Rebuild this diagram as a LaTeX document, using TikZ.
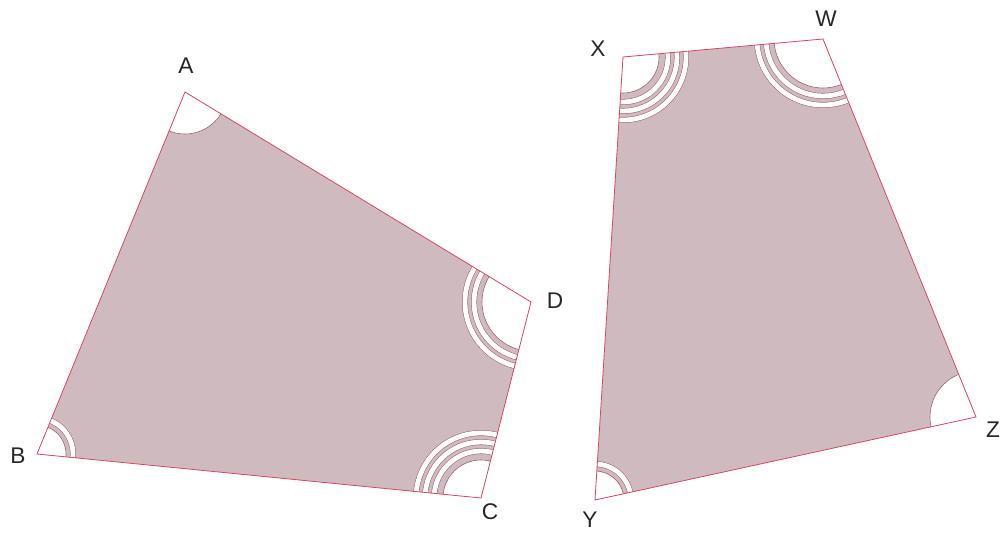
\documentclass[tikz,border=0pt]{standalone}
\usepackage{fontspec}
\setmainfont{Liberation Sans}
\usepackage{tikz}
\usetikzlibrary{calc}
\usepackage{xcolor}

\definecolor{quadfill}{RGB}{207,187,191}
\definecolor{edgered}{RGB}{214,72,98}
\definecolor{markred}{RGB}{160,95,108}

\begin{document}
\begin{tikzpicture}[x=0.75pt, y=-0.75pt,
    edge/.style={draw=edgered, line width=0.6pt, line join=miter},
    sector/.style={fill=white, draw=markred, line width=0.45pt},
    markarc/.style={draw=markred, line width=0.4pt, double=white, double distance=3.6pt},
    lbl/.style={font=\fontsize{17}{20}\selectfont, text=black!85, inner sep=0pt}]
    \useasboundingbox (0,0) rectangle (1003,540);

    % left quadrilateral
    \coordinate (A) at (185,92);
    \coordinate (B) at (37,454);
    \coordinate (C) at (481,498);
    \coordinate (D) at (531,302);

    % right quadrilateral
    \coordinate (X) at (623,57);
    \coordinate (W) at (823,39);
    \coordinate (Z) at (976,417);
    \coordinate (Y) at (595,500);

    \begin{scope}
        \clip (A) -- (B) -- (C) -- (D) -- cycle;
        \fill[quadfill] (A) -- (B) -- (C) -- (D) -- cycle;
        \path[sector] (A) circle (42);
        \path[sector] (B) circle (29);
        \draw[markarc] (B) circle (36);
        \path[sector] (D) circle (49);
        \foreach \r in {57,66} \draw[markarc] (D) circle (\r);
        \path[sector] (C) circle (38);
        \foreach \r in {47,56,65} \draw[markarc] (C) circle (\r);
    \end{scope}
    \draw[edge] (A) -- (B) -- (C) -- (D) -- cycle;

    \begin{scope}
        \clip (X) -- (W) -- (Z) -- (Y) -- cycle;
        \fill[quadfill] (X) -- (W) -- (Z) -- (Y) -- cycle;
        \path[sector] (Z) circle (46);
        \path[sector] (Y) circle (29);
        \draw[markarc] (Y) circle (36);
        \path[sector] (W) circle (49);
        \foreach \r in {57,66} \draw[markarc] (W) circle (\r);
        \path[sector] (X) circle (36);
        \foreach \r in {45,54,63} \draw[markarc] (X) circle (\r);
    \end{scope}
    \draw[edge] (X) -- (W) -- (Z) -- (Y) -- cycle;

    % labels
    \node[lbl] (labA) at (186,66) {A};
    \node[lbl] (labB) at (18,456) {B};
    \node[lbl] (labC) at (490,512) {C};
    \node[lbl] (labD) at (555,301) {D};
    \node[lbl] (labX) at (598,49) {X};
    \node[lbl] (labW) at (826,19) {W};
    \node[lbl] (labZ) at (993,430) {Z};
    \node[lbl] (labY) at (590,520) {Y};
\end{tikzpicture}
\end{document}
